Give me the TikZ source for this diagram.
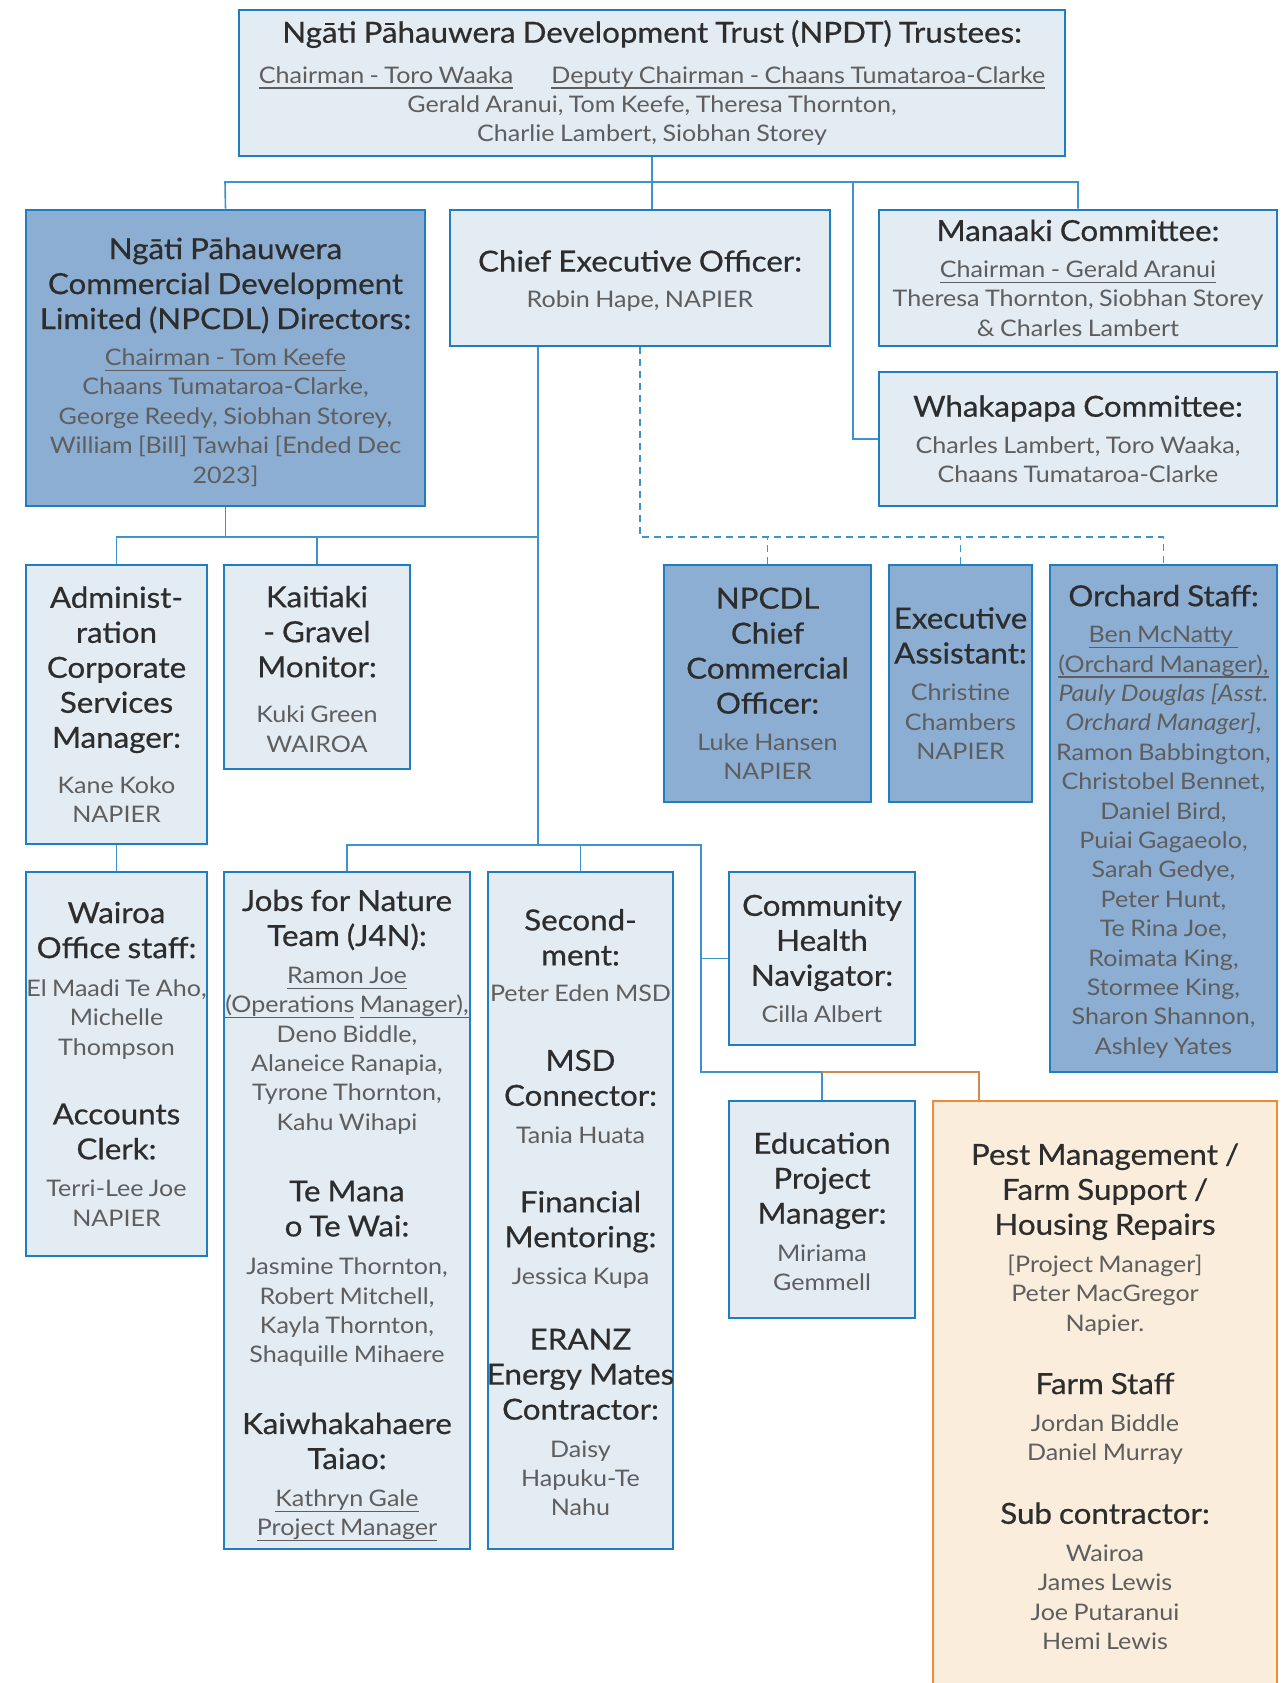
\documentclass[tikz,border=0pt]{standalone}
\usepackage{fontspec}
\setmainfont{Lato}[FakeStretch=1.1,WordSpace=1.7]
\newfontfamily\hdfam{Lato}[FakeStretch=1.08,FakeBold=0.6]
\usetikzlibrary{calc}
\definecolor{bordc}{HTML}{1F7EC2}
\definecolor{lightc}{HTML}{E3EBF3}
\definecolor{darkc}{HTML}{8CAED3}
\definecolor{connc}{HTML}{3E93CF}
\definecolor{orc}{HTML}{F08A33}
\definecolor{orfill}{HTML}{FBEDDC}
\definecolor{orconn}{HTML}{D08A4E}
\definecolor{titc}{HTML}{2D2D2D}
\definecolor{namc}{HTML}{5E5E5E}
\newsavebox\ulsave
\newcommand\ulx[1]{\leavevmode\sbox\ulsave{#1}\rlap{\rule[-5.6pt]{\wd\ulsave}{1.3pt}}\usebox\ulsave}
\newcommand\hdf{\hdfam\fontsize{29}{35}\selectfont\spaceskip=7pt\relax\xspaceskip=7pt\relax\color{titc}}
\newcommand\nmf{\rmfamily\fontsize{22.8}{29.4}\selectfont\spaceskip=\dimexpr\fontdimen2\font-5.5pt\relax\xspaceskip=\spaceskip\color{namc}}
\tikzset{
  lbox/.style={rectangle, draw=bordc, fill=lightc, line width=2.8pt, inner sep=0pt},
  dbox/.style={lbox, fill=darkc},
  obox/.style={rectangle, draw=orc, fill=orfill, line width=2.8pt, inner sep=0pt},
  txt/.style={align=center, inner sep=0pt},
  conn/.style={draw=connc, line width=1.6pt},
  dconn/.style={draw=connc, line width=1.6pt, dash pattern=on 7pt off 5pt},
  oconn/.style={draw=orconn, line width=1.6pt},
}
\begin{document}
\begin{tikzpicture}[x=1pt,y=-1pt]
\useasboundingbox (0,0) rectangle (1287,1683);
\fill[white] (0,0) rectangle (1287,1683);

\coordinate (h1L) at (225,182);
\coordinate (wk) at (853,182);
\coordinate (c2) at (538,537);
\coordinate (d1) at (640,537);
\coordinate (c3) at (538,845);
\coordinate (c3R) at (701,845);
\coordinate (c4) at (701,1072);
\coordinate (p1) at (979,1072);

% ---------- boxes ----------
\node[lbox, minimum width=826, minimum height=146] (top) at (652,83) {};
\node[dbox, minimum width=399, minimum height=296] (npcdl) at (225.5,358) {};
\node[lbox, minimum width=380, minimum height=136] (ceo) at (640,278) {};
\node[lbox, minimum width=398, minimum height=136] (manaaki) at (1078,278) {};
\node[lbox, minimum width=398, minimum height=134] (whaka) at (1078,439) {};
\node[lbox, minimum width=181, minimum height=279] (admin) at (116.5,704.5) {};
\node[lbox, minimum width=186, minimum height=204] (kait) at (317,667) {};
\node[dbox, minimum width=207, minimum height=237] (cco) at (767.5,683.5) {};
\node[dbox, minimum width=143, minimum height=237] (exec) at (960.5,683.5) {};
\node[dbox, minimum width=227, minimum height=507] (orch) at (1163.5,818.5) {};
\node[lbox, minimum width=181, minimum height=384] (wairoa) at (116.5,1064) {};
\node[lbox, minimum width=246, minimum height=677] (j4n) at (347,1210.5) {};
\node[lbox, minimum width=185, minimum height=677] (sec) at (580.5,1210.5) {};
\node[lbox, minimum width=186, minimum height=173] (comm) at (822,958.5) {};
\node[lbox, minimum width=186, minimum height=217] (edu) at (822,1209.5) {};
\node[obox, minimum width=344, minimum height=599] (pest) at (1105,1400.5) {};

% ---------- connectors ----------
\draw[conn] (top.south) -- (top.south |- ceo.north);
\draw[conn] (npcdl.north) -- (h1L) -- (h1L -| manaaki.north) -- (manaaki.north);
\draw[conn] (wk) |- (whaka.west);
\draw[conn] (ceo.south -| c2) -- (c3);
\draw[conn] (npcdl.south) -- (npcdl.south |- c2);
\draw[conn] (admin.north) |- (c2);
\draw[conn] (kait.north) -- (kait.north |- c2);
\draw[dconn] (ceo.south) -- (d1) -- (d1 -| orch.north) -- (orch.north);
\draw[dconn] (cco.north) -- (cco.north |- d1);
\draw[dconn] (exec.north) -- (exec.north |- d1);
\draw[conn] (admin.south) -- (wairoa.north);
\draw[conn] (j4n.north) |- (c3R) -- (c4) -- (c4 -| edu.north) -- (edu.north);
\draw[conn] (sec.north) -- (sec.north |- c3);
\draw[conn] (c3R |- comm.west) -- (comm.west);
\draw[oconn] (c4 -| edu.north) -- (p1) -- (p1 |- pest.north);

% ---------- texts ----------
\node[txt, text width=900] (topT) at (top.center) {\hdf Ngāti Pāhauwera Development Trust (NPDT) Trustees:\\[11pt]
\nmf \ulx{Chairman - Toro Waaka}\hspace{38pt}\ulx{Deputy Chairman - Chaans Tumataroa-Clarke}\\
Gerald Aranui, Tom Keefe, Theresa Thornton,\\
Charlie Lambert, Siobhan Storey\par};

\node[txt, text width=460] (npcdlT) at ([yshift=-4pt]npcdl.center) {\hdf Ngāti Pāhauwera\\ Commercial Development\\ Limited (NPCDL) Directors:\\[7pt]
\nmf \ulx{Chairman - Tom Keefe}\\ Chaans Tumataroa-Clarke,\\ George Reedy, Siobhan Storey,\\ William [Bill] Tawhai [Ended Dec\\ 2023]\par};

\node[txt, text width=440] (ceoT) at ([yshift=-3pt]ceo.center) {\hdf Chief Executive Officer:\\[7pt] \nmf Robin Hape, NAPIER\par};

\node[txt, text width=460] (manaakiT) at (manaaki.center) {\hdf Manaaki Committee:\\[7pt]
\nmf \ulx{Chairman - Gerald Aranui}\\ Theresa Thornton, Siobhan Storey\\ \& Charles Lambert\par};

\node[txt, text width=460] (whakaT) at (whaka.center) {\hdf Whakapapa Committee:\\[7pt]
\nmf Charles Lambert, Toro Waaka,\\ Chaans Tumataroa-Clarke\par};

\node[txt, text width=240] (adminT) at (admin.center) {\hdf Administ-\\ ration\\ Corporate\\ Services\\ Manager:\\[16pt]
\nmf Kane Koko\\ NAPIER\par};

\node[txt, text width=240] (kaitT) at ([yshift=-2pt]kait.center) {\hdf Kaitiaki\\ - Gravel\\ Monitor:\\[16pt]
\nmf Kuki Green\\ WAIROA\par};

\node[txt, text width=260] (ccoT) at (cco.center) {\hdf NPCDL\\ Chief\\ Commercial\\ Officer:\\[7pt]
\nmf Luke Hansen\\ NAPIER\par};

\node[txt, text width=220] (execT) at (exec.center) {\hdf Executive\\ Assistant:\\[8pt]
\nmf Christine\\ Chambers\\ NAPIER\par};

\node[txt, text width=280] (orchT) at ([yshift=-3pt]orch.center) {\hdf Orchard Staff:\\[7pt]
\nmf \ulx{Ben McNatty }\\ \ulx{(Orchard Manager),}\\ \textit{Pauly Douglas [Asst.}\\ \textit{Orchard Manager]},\\
Ramon Babbington,\\ Christobel Bennet,\\ Daniel Bird,\\ Puiai Gagaeolo,\\ Sarah Gedye,\\ Peter Hunt,\\ Te Rina Joe,\\ Roimata King,\\ Stormee King,\\ Sharon Shannon,\\ Ashley Yates\par};

\node[txt, text width=240] (wairoaT) at (wairoa.center) {\hdf Wairoa\\ Office staff:\\[9pt]
\nmf El Maadi Te Aho,\\ Michelle\\ Thompson\\[34pt]
\hdf Accounts\\ Clerk:\\[8pt]
\nmf Terri-Lee Joe\\ NAPIER\par};

\node[txt, text width=300] (j4nT) at ([yshift=-5pt]j4n.center) {\hdf Jobs for Nature\\ Team (J4N):\\[8pt]
\nmf \ulx{Ramon Joe}\\ \ulx{(Operations} \ulx{Manager),}\\ Deno Biddle,\\ Alaneice Ranapia,\\ Tyrone Thornton,\\ Kahu Wihapi\\[36pt]
\hdf Te Mana\\ o Te Wai:\\[9pt]
\nmf Jasmine Thornton,\\ Robert Mitchell,\\ Kayla Thornton,\\ Shaquille Mihaere\\[36pt]
\hdf Kaiwhakahaere\\ Taiao:\\[8pt]
\nmf \ulx{Kathryn Gale}\\ \ulx{Project Manager}\par};

\node[txt, text width=240] (secT) at ([yshift=-2pt]sec.center) {\hdf Second-\\ ment:\\[7pt]
\nmf Peter Eden MSD\\[34pt]
\hdf MSD\\ Connector:\\[8pt]
\nmf Tania Huata\\[34pt]
\hdf Financial\\ Mentoring:\\[8pt]
\nmf Jessica Kupa\\[30pt]
\hdf ERANZ\\ Energy Mates\\ Contractor:\\[8pt]
\nmf Daisy\\ Hapuku-Te\\ Nahu\par};

\node[txt, text width=240] (commT) at (comm.center) {\hdf Community\\ Health\\ Navigator:\\[7pt]
\nmf Cilla Albert\par};

\node[txt, text width=240] (eduT) at ([yshift=-2pt]edu.center) {\hdf Education\\ Project\\ Manager:\\[8pt]
\nmf Miriama\\ Gemmell\par};

\node[txt, text width=400] (pestT) at ([yshift=4pt]pest.center) {\hdf Pest Management /\\ Farm Support /\\ Housing Repairs\\[8pt]
\nmf [Project Manager]\\ Peter MacGregor\\ Napier.\\[28pt]
\hdf Farm Staff\\[8pt]
\nmf Jordan Biddle\\ Daniel Murray\\[28pt]
\hdf Sub contractor:\\[8pt]
\nmf Wairoa\\ James Lewis\\ Joe Putaranui\\ Hemi Lewis\par};
\end{tikzpicture}
\end{document}
